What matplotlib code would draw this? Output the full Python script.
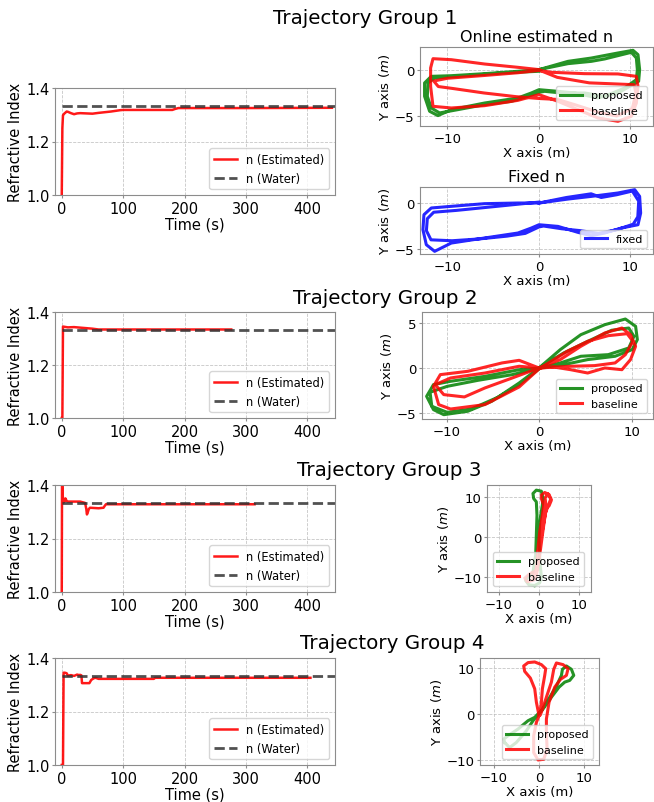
import matplotlib
matplotlib.use("Agg")
import matplotlib.pyplot as plt

N_WATER = 1.333
T_WATER = [0, 460]

# refractive index estimates (time s, n)
g1_t = [0, 1, 2, 4, 6, 8, 10, 15, 20, 25, 30, 40, 50, 60, 80, 95, 100, 180, 185, 190, 300, 440]
g1_n = [1.0, 1.25, 1.298, 1.304, 1.308, 1.312, 1.311, 1.306, 1.302, 1.305, 1.306, 1.305, 1.304,
        1.307, 1.312, 1.317, 1.318, 1.318, 1.322, 1.325, 1.325, 1.326]

g2_t = [0, 1, 2, 10, 20, 30, 40, 50, 60, 100, 276]
g2_n = [1.0, 1.0, 1.345, 1.342, 1.343, 1.341, 1.339, 1.337, 1.334, 1.334, 1.334]

g3_t = [0, 0.5, 1.5, 3, 5, 6, 7, 8, 10, 30, 38, 40, 41, 42, 44, 46, 60, 68, 70, 72, 150, 314]
g3_n = [1.0, 1.45, 1.36, 1.335, 1.34, 1.35, 1.345, 1.34, 1.338, 1.338, 1.333, 1.31, 1.29,
        1.295, 1.31, 1.315, 1.313, 1.315, 1.322, 1.328, 1.328, 1.328]

g4_t = [0, 2, 3, 5, 8, 10, 15, 20, 25, 28, 30, 32, 33, 45, 48, 52, 55, 60, 150, 152, 405]
g4_n = [1.0, 1.0, 1.345, 1.345, 1.343, 1.334, 1.336, 1.333, 1.338, 1.336, 1.337, 1.335, 1.306,
        1.306, 1.318, 1.324, 1.326, 1.322, 1.322, 1.326, 1.326]

# trajectories (m)
g1_prop_x = [0, 3.17, 5.72, 8.63, 10.27, 10.82, 11.0, 10.89, 8.63, 6.45, 3.9, 2.08, 0, -0.84, -2.3,
             -5.94, -9.58, -11.04, -11.95, -12.5, -12.5, -11.77, -9.58, -5.94, -2.3, 0,
             3.17, 5.72, 7.18, 8.63, 10.09, 10.64, 10.75, 10.64, 9.36, 7.18, 4.99, 2.44, 0.62, 0,
             -1.2, -3.02, -5.94, -8.85, -10.86, -11.77, -12.2, -12.13, -11.4, -8.85, -4.12, 0]
g1_prop_y = [0.04, 0.94, 1.3, 1.85, 2.14, 1.67, 0.04, -1.23, -2.5, -3.04, -2.5, -2.32, -2.14, -2.5,
             -3.04, -3.59, -4.31, -4.96, -4.49, -2.86, -1.41, -0.69, -0.62, -0.4, -0.14, 0.04,
             0.69, 0.94, 1.2, 1.56, 1.92, 1.3, 0.04, -1.05, -1.96, -2.86, -2.5, -2.5, -2.32, -2.43,
             -2.86, -3.41, -3.77, -4.31, -4.67, -4.13, -2.86, -1.41, -0.87, -0.69, -0.33, -0.14]
g1_base_x = [0, -2.3, -5.94, -9.58, -11.58, -11.84, -11.84, -11.58, -9.58, -5.94, -2.3, 0, 2.08,
             4.26, 6.45, 8.63, 10.09, 10.64, 10.82, 10.64, 8.63, 5.0, 1.35, 0,
             -2.3, -6.0, -10.0, -11.5, -11.0, -9.5, -6.0, -2.5, 0, 2.0, 4.0, 6.5, 8.5, 10.2, 10.6,
             10.4, 8.0, 5.5, 2.0, 0]
g1_base_y = [0.04, 0.29, 0.65, 1.12, 1.23, 0.22, -1.78, -3.95, -4.13, -3.88, -3.3, -2.68, -3.41,
             -4.31, -5.22, -5.58, -5.04, -3.59, -1.78, -0.69, -0.43, -0.4, -0.25, -0.04,
             -0.3, -0.6, -0.9, -1.2, -1.8, -2.0, -2.5, -2.9, -3.1, -3.2, -3.8, -4.6, -5.0, -4.2, -2.5,
             -1.6, -1.5, -1.4, -0.8, 0]
g1_fix_x = [0, 3.17, 5.72, 8.63, 10.46, 11.0, 11.11, 10.82, 9.0, 7.18, 5.72, 4.26, 2.08, 0, -0.84,
            -2.3, -5.94, -9.58, -11.4, -12.31, -12.68, -12.57, -11.77, -9.58, -5.94, -2.3, 0,
            3.0, 5.7, 6.8, 8.5, 10.2, 10.9, 10.8, 10.3, 8.5, 6.5, 4.5, 2.5, 0.5, 0, -1.5, -3.5,
            -6.5, -9.5, -11.8, -12.3, -12.2, -11.5, -9.0, -6.0, -3.0, 0]
g1_fix_y = [0, 0.43, 0.72, 1.09, 1.45, 0.72, -1.09, -2.36, -2.72, -3.26, -3.55, -3.19, -2.54, -2.36,
            -2.72, -3.26, -3.8, -4.35, -5.25, -4.53, -2.9, -1.27, -0.54, -0.36, -0.07, 0, 0,
            0.6, 1.0, 0.6, 0.9, 1.3, 0.2, -1.5, -2.3, -2.9, -3.3, -3.0, -2.8, -2.5, -2.6, -3.3, -3.6,
            -3.9, -4.1, -4.0, -3.0, -1.7, -1.0, -0.8, -0.5, -0.2, 0.1]

g2_prop_x = [0, 2.3, 4.52, 7.11, 9.33, 10.44, 10.63, 10.07, 8.22, 5.26, 2.67, 0, -2.15, -5.85,
             -9.56, -11.41, -12.15, -11.41, -10.3, -7.7, -5.11, -2.15, 0,
             2.67, 5.26, 7.85, 9.7, 10.26, 9.7, 7.48, 4.52, 2.3, 0, -2.89, -6.59, -9.93, -11.78,
             -11.59, -9.93, -7.33, -4.37, -2.15, 0]
g2_prop_y = [0, 2.04, 3.7, 4.81, 5.44, 4.63, 3.15, 2.04, 1.3, 0.93, 0.37, 0, -0.19, -0.93, -1.48,
             -1.85, -3.15, -4.63, -5.19, -4.81, -3.7, -1.67, 0,
             1.67, 2.96, 4.19, 4.44, 3.52, 2.22, 1.48, 1.3, 0.56, -0.04, -0.74, -1.37, -2.04, -2.7,
             -4.26, -4.93, -4.56, -3.22, -1.85, -0.11]
g2_base_x = [0, 2.3, 4.52, 7.11, 8.96, 9.89, 10.44, 9.89, 8.96, 7.11, 5.26, 3.41, 1.56, 0, -2.15,
             -4.0, -7.7, -10.67, -11.41, -10.85, -9.56, -5.85, -2.15, 0,
             3.04, 5.26, 7.48, 9.52, 10.15, 9.33, 8.22, 5.99, 3.41, 0, -2.89, -5.85, -8.07, -10.3,
             -11.22, -9.56, -5.85, -2.15, 0]
g2_base_y = [0, 0.93, 2.41, 3.89, 4.44, 3.7, 2.41, 0.93, -0.19, 0, -0.56, -0.19, 0.11, 0, 0.85,
             0.56, -0.37, -0.74, -2.04, -4.07, -4.56, -4.07, -2.11, -0.11,
             1.85, 2.96, 3.59, 3.81, 2.96, 1.48, 0.56, 0.26, 0.19, 0, -1.11, -2.22, -3.22, -2.96,
             -1.85, -1.11, -0.56, 0.19, 0]

g3_prop_x = [-1.07, 0.17, 0.58, 0.17, 0, 0.17, 0.83, 0.99, 0.58, -0.66, -1.49, -1.32, -0.66, -0.5,
             -0.66, -0.83, -1.49, -2.73, -3.31, -2.48, -1.07]
g3_prop_y = [-12.13, -11.46, -10.04, -5.44, -0.42, 3.77, 7.95, 9.62, 11.46, 11.72, 10.88, 9.62,
             8.79, 5.44, 0.42, -4.6, -8.79, -10.04, -10.88, -11.97, -12.13]
g3_base_x = [-1.49, -0.66, -0.25, 0.17, 0.83, 1.16, 0.58, 0.58, 1.4, 2.48, 3.06, 2.48, 1.82, 1.4,
             0.83, 0.17, -0.5, -1.49, -2.3, -3.5, -2.9, -1.2, -0.6,
             0.0, 0.6, 1.3, 1.7, 1.5, 2.2, 2.9, 2.3, 1.6, 1.0, 0.4, -0.3]
g3_base_y = [-10.04, -7.95, -2.93, 1.26, 5.44, 7.95, 9.62, 10.46, 11.13, 10.63, 9.2, 7.78, 7.28,
             4.6, 0.42, -4.6, -8.37, -8.8, -9.2, -10.3, -11.2, -10.7, -9.6,
             -4.0, 1.0, 5.5, 8.0, 9.8, 10.8, 9.5, 7.9, 6.0, 2.5, -1.0, -4.0]

g4_prop_x = [-7.63, -6.52, -5.04, -2.81, -1.33, 0.52, 2.37, 3.85, 4.96, 5.19, 6.07, 7.19, 7.7,
             6.81, 5.7, 4.44, 2.74, 0.89, -0.96, -2.44, -4.67, -6.89, -7.85, -7.63]
g4_prop_y = [-6.2, -7.3, -6.2, -3.65, -1.46, 0.73, 3.65, 6.06, 8.39, 9.71, 10.44, 9.71, 8.39,
             7.3, 6.93, 5.84, 3.65, 1.09, -0.73, -1.46, -3.28, -4.74, -5.47, -6.2]
g4_base_x = [0, -0.59, -0.96, -1.93, -3.19, -3.41, -2.44, -0.96, 0.52, 1.48, 1.26, 0.74, 0.52,
             0.15, 0.52, 1.63, 2.74, 3.26, 3.85, 5.33, 6.44, 6.07, 4.74, 3.48, 2.22, 1.63, 1.63,
             1.78, 1.04, -0.22, -1.19, -1.19, -0.59, 0]
g4_base_y = [-0.36, 2.55, 5.47, 7.81, 9.27, 10.44, 11.17, 11.31, 10.73, 9.85, 8.39, 5.47, 2.55,
             -0.36, 0.36, 3.65, 6.93, 9.71, 11.09, 10.73, 9.85, 8.39, 7.52, 5.84, 2.55, -1.09,
             -4.01, -7.66, -9.85, -10.0, -8.39, -4.74, -1.82, -0.36]

W, H = 654, 803


def box(x0, y0, x1, y1):
    return [x0 / W, (H - y1) / H, (x1 - x0) / W, (y1 - y0) / H]


def style(ax, size):
    ax.grid(True, linestyle="--", linewidth=0.6, color="#b8b8b8", alpha=0.8)
    for s in ax.spines.values():
        s.set_color("#8c8c8c")
    ax.tick_params(labelsize=size, length=2, pad=2, colors="#8c8c8c", labelcolor="black")


def n_panel(ax, t, n):
    ax.plot(t, n, color="red", lw=1.8, alpha=0.9, label="n (Estimated)")
    ax.plot(T_WATER, [N_WATER, N_WATER], "--", color="#333333", lw=2, alpha=0.85, label="n (Water)")
    ax.set_xlim(-11, 445)
    ax.set_ylim(1.0, 1.4)
    ax.set_yticks([1.0, 1.2, 1.4])
    ax.set_xticks([0, 100, 200, 300, 400])
    ax.set_xlabel("Time (s)", fontsize=10.5, labelpad=1)
    ax.set_ylabel("Refractive Index", fontsize=10.5, labelpad=2)
    ax.legend(loc="lower right", fontsize=8.3)
    style(ax, 10.5)


def traj_panel(ax, series, xlim, ylim, yticks, loc):
    for x, y, c, lab in series:
        ax.plot(x, y, color=c, lw=2.2, alpha=0.85, label=lab)
    ax.set_xlim(*xlim)
    ax.set_ylim(*ylim)
    ax.set_xticks([-10, 0, 10])
    ax.set_yticks(yticks)
    ax.set_xlabel("X axis (m)", fontsize=9.5, labelpad=1)
    ax.set_ylabel("Y axis ($m$)", fontsize=9.5, labelpad=2)
    ax.legend(loc=loc, fontsize=8)
    style(ax, 9.5)


fig = plt.figure(figsize=(W / 100, H / 100), dpi=100)

n_panel(fig.add_axes(box(55, 89, 335, 196)), g1_t, g1_n)
n_panel(fig.add_axes(box(55, 313, 335, 419)), g2_t, g2_n)
n_panel(fig.add_axes(box(55, 486, 335, 593)), g3_t, g3_n)
n_panel(fig.add_axes(box(55, 659, 335, 766)), g4_t, g4_n)

ax = fig.add_axes(box(420, 48, 653, 127))
traj_panel(ax, [(g1_prop_x, g1_prop_y, "green", "proposed"),
                (g1_base_x, g1_base_y, "red", "baseline")],
           (-13.0, 12.46), (-6.09, 2.5), [-5, 0], "lower right")
ax.set_title("Online estimated n", fontsize=11.5, pad=4)

ax = fig.add_axes(box(420, 188, 653, 255))
traj_panel(ax, [(g1_fix_x, g1_fix_y, "blue", "fixed")],
           (-13.0, 12.46), (-5.54, 1.74), [-5, 0], "lower right")
ax.set_title("Fixed n", fontsize=11.5, pad=4)

ax = fig.add_axes(box(422, 313, 653, 420))
traj_panel(ax, [(g2_prop_x, g2_prop_y, "green", "proposed"),
                (g2_base_x, g2_base_y, "red", "baseline")],
           (-12.65, 12.32), (-5.67, 6.22), [-5, 0, 5], "lower right")

ax = fig.add_axes(box(487, 486, 591, 593))
traj_panel(ax, [(g3_prop_x, g3_prop_y, "green", "proposed"),
                (g3_base_x, g3_base_y, "red", "baseline")],
           (-12.84, 12.84), (-13.75, 13.0), [-10, 0, 10], "lower left")

ax = fig.add_axes(box(480, 659, 599, 766))
traj_panel(ax, [(g4_prop_x, g4_prop_y, "green", "proposed"),
                (g4_base_x, g4_base_y, "red", "baseline")],
           (-13.1, 13.3), (-11.09, 12.17), [-10, 0, 10], "lower right")

for i, (cx, base) in enumerate([(365, 24.5), (385, 304.5), (389, 476.5), (392, 649.5)]):
    fig.text(cx / W, 1 - base / H, f"Trajectory Group {i + 1}", fontsize=14.3,
             ha="center", va="baseline")

fig.savefig("out.png", dpi=100)
